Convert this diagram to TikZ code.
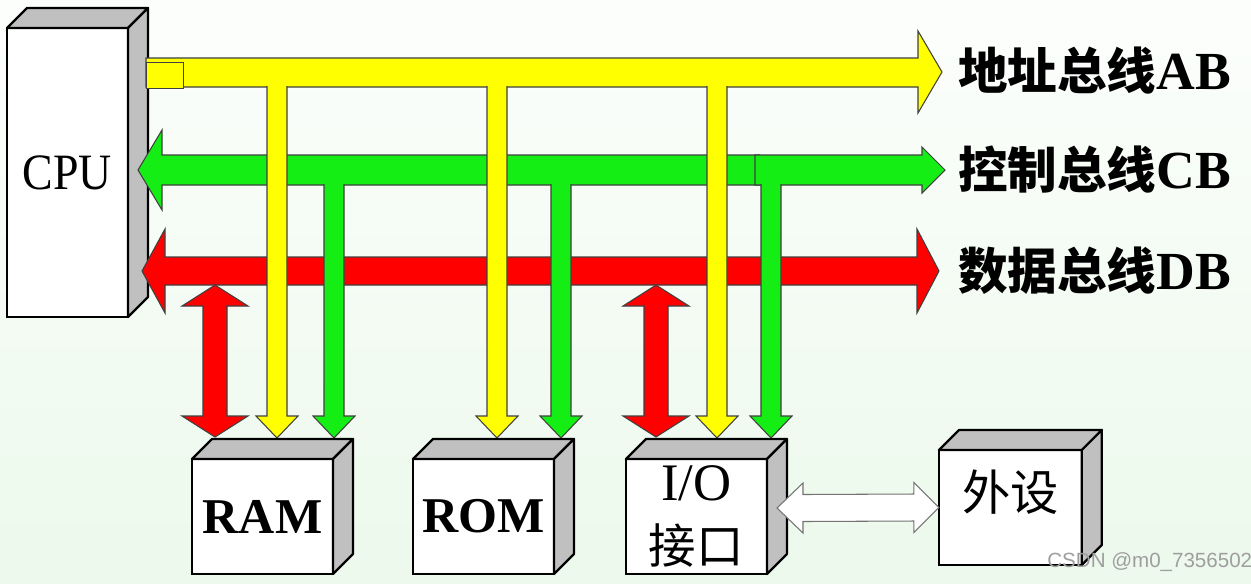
\documentclass[tikz,border=0pt]{standalone}
\usepackage{fontspec}
\usepackage{graphicx}
\setmainfont{Liberation Serif}
\setsansfont{Liberation Sans}
\newfontfamily\cjk{Noto Sans CJK SC}
\usetikzlibrary{positioning, calc}
\definecolor{busyellow}{HTML}{FFFF00}
\definecolor{busgreen}{HTML}{14EE14}
\definecolor{busred}{HTML}{FF0000}
\definecolor{facegray}{HTML}{C0C0C0}
\definecolor{bgtop}{HTML}{FCFEFC}
\definecolor{bgbottom}{HTML}{ECF9EC}
\newcommand{\busname}[2]{{\cjk\bfseries #1}{\bfseries\fontsize{30.5}{31}\selectfont #2}}
% top and side face of a box node
\newcommand{\cubefaces}[1]{%
  \filldraw[face] (#1.north west) -- ++(20,-20) -- ([shift={(20,-20)}]#1.north east) -- (#1.north east) -- cycle;
  \filldraw[face] (#1.north east) -- ([shift={(20,-20)}]#1.north east) -- ([shift={(20,-20)}]#1.south east) -- (#1.south east) -- cycle;}
% drop from a bus: colour, x, top, tip
\newcommand{\busdrop}[4]{%
  \filldraw[busline, fill=#1] (#2-10,#3) -- (#2-10,#4-22) -- (#2-21,#4-22) -- (#2,#4)
    -- (#2+21,#4-22) -- (#2+10,#4-22) -- (#2+10,#3);}
% data line to a unit: x
\newcommand{\datalink}[1]{%
  \filldraw[busline, fill=busred] (#1,285) -- (#1+33,306) -- (#1+12,306) -- (#1+12,416) -- (#1+33,416)
    -- (#1,437) -- (#1-33,416) -- (#1-12,416) -- (#1-12,306) -- (#1-33,306) -- cycle;}

\begin{document}
\begin{tikzpicture}[x=0.02cm, y=-0.02cm,
    node distance=1.6cm,
    box/.style={draw=black, line width=1.3pt, fill=white, outer sep=0pt, inner sep=0pt,
                minimum width=2.82cm, minimum height=2.3cm},
    face/.style={draw=black, line width=1.3pt, fill=facegray, line join=round},
    busline/.style={draw=black!75, line width=0.6pt},
    lbl/.style={anchor=west, inner sep=0pt, font=\fontsize{28.2}{31}\selectfont}
  ]
  \useasboundingbox (0,0) rectangle (1251,583);
  \shade[top color=bgtop, bottom color=bgbottom] (0,0) rectangle (1251,583);

  % CPU
  \node[box, minimum width=2.42cm, minimum height=5.78cm,
        font=\fontsize{29}{30}\selectfont] (cpu) at (67.5,172.5) {\scalebox{0.9}[1]{CPU}};
  \cubefaces{cpu}

  % buses
  \filldraw[busline, fill=busred] (165,257) -- (917,257) -- (917,229) -- (939,271) -- (917,313)
    -- (917,285) -- (165,285) -- (165,313) -- (142,271) -- (165,229) -- cycle;
  \filldraw[busline, fill=busgreen] (760,155) -- (162,155) -- (162,130) -- (138,170) -- (162,210)
    -- (162,185) -- (760,185);
  \filldraw[busline, fill=busgreen] (755,155) -- (922,155) -- (922,147) -- (945,170) -- (922,193)
    -- (922,185) -- (755,185) -- cycle;
  \filldraw[busline, fill=busyellow] (146,58) -- (918,58) -- (918,31) -- (942,72) -- (918,113)
    -- (918,87) -- (146,87) -- cycle;
  \node[busline, fill=busyellow, minimum width=0.74cm, minimum height=0.52cm, inner sep=0pt,
        anchor=north west] (abport) at (146,62) {};

  % lines down to the units
  \foreach \x in {334,561,771} {\busdrop{busgreen}{\x}{184}{438}}
  \foreach \x in {277,497,717} {\busdrop{busyellow}{\x}{86}{438}}
  \foreach \x in {215,656} {\datalink{\x}}

  % units
  \node[box, font=\bfseries\fontsize{28.5}{30}\selectfont] (ram) at (262.5,516.5) {RAM};
  \node[box, font=\bfseries\fontsize{28.5}{30}\selectfont, right=of ram] (rom) {ROM};
  \node[box, align=center, font=\fontsize{27}{36}\selectfont, right=1.44cm of rom] (io)
    {{\fontsize{30}{36}\selectfont I/O}\\{\cjk 接口}};
  \node[box, minimum width=2.86cm, right=3.44cm of io, yshift=0.18cm] (dev) {};
  \node[inner sep=0pt, font=\cjk\fontsize{27.5}{30}\selectfont] (devlbl)
    at ([yshift=0.3cm]dev.center) {外设};
  \foreach \u in {ram,rom,io,dev} {\cubefaces{\u}}

  % I/O to device
  \coordinate (ioport) at (777,508);
  \coordinate (devport) at (dev.west);
  \filldraw[busline, draw=black!55, fill=white] (ioport) -- ++(26,-25) -- ++(0,11.5)
    -- ($(devport)+(-25,-13.5)$) -- ++(0,-11.5) -- (devport) -- ++(-25,25) -- ++(0,-11.5)
    -- ($(ioport)+(26,13.5)$) -- ++(0,11.5) -- cycle;

  % bus names
  \node[lbl] (ab) at (958,71) {\busname{地址总线}{AB}};
  \node[lbl] (cb) at (958,170) {\busname{控制总线}{CB}};
  \node[lbl] (db) at (958,271) {\busname{数据总线}{DB}};

  \node[anchor=base west, inner sep=0pt, text=black!38,
        font=\sffamily\fontsize{11.7}{12}\selectfont] (mark) at (1047,567) {CSDN @m0\_73565025};
\end{tikzpicture}
\end{document}
